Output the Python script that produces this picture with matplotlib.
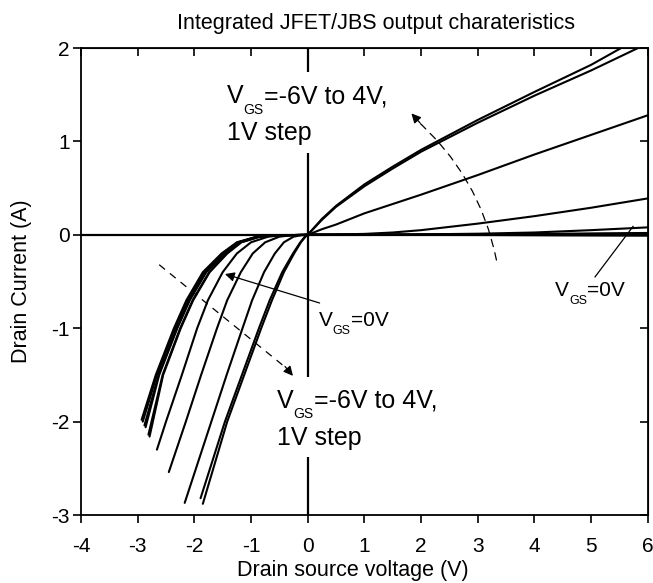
import matplotlib
matplotlib.use('Agg')
import matplotlib.pyplot as plt
from matplotlib.patches import Rectangle

plt.rcParams['font.family'] = ['Liberation Sans', 'DejaVu Sans']
plt.rcParams['axes.unicode_minus'] = False

# ---------------- data ----------------
vgs_values = [-6, -5, -4, -3, -2, -1, 0, 1, 2, 3, 4]

# positive (JFET) branch: common Vds grid, current per Vgs
pos_vds = [0, 0.25, 0.5, 1, 1.5, 2, 3, 4, 5, 6]
pos_id = {
    4:  [0, 0.17, 0.31, 0.54, 0.73, 0.91, 1.23, 1.53, 1.82, 2.16],
    3:  [0, 0.16, 0.30, 0.52, 0.71, 0.89, 1.20, 1.49, 1.76, 2.05],
    2:  [0, 0.06, 0.11, 0.23, 0.33, 0.43, 0.64, 0.86, 1.07, 1.28],
    1:  [0, 0.002, 0.004, 0.01, 0.025, 0.05, 0.12, 0.20, 0.29, 0.39],
    0:  [0, 0.0, 0.0, 0.0, 0.003, 0.005, 0.012, 0.025, 0.05, 0.08],
    -1: [0, 0.0, 0.0, 0.0, 0.0, 0.002, 0.005, 0.01, 0.015, 0.02],
    -2: [0, 0.0, 0.0, 0.0, 0.0, 0.001, 0.003, 0.006, 0.009, 0.012],
    -3: [0, 0.0, 0.0, 0.0, 0.0, 0.0, 0.001, 0.003, 0.004, 0.006],
    -4: [0, 0.0, 0.0, 0.0, 0.0, 0.0, 0.0, 0.0, 0.0, 0.0],
    -5: [0, 0.0, 0.0, 0.0, 0.0, 0.0, -0.001, -0.002, -0.003, -0.004],
    -6: [0, 0.0, 0.0, 0.0, 0.0, -0.001, -0.002, -0.004, -0.006, -0.008],
}

# negative (JBS diode) branch, from the origin down to the last point
neg_vds = {
    -6: [0, -0.55, -0.90, -1.25, -1.52, -1.85, -2.14, -2.36, -2.68, -2.93],
    -5: [0, -0.54, -0.89, -1.23, -1.50, -1.83, -2.12, -2.34, -2.66, -2.91],
    -4: [0, -0.53, -0.88, -1.22, -1.48, -1.80, -2.09, -2.31, -2.63, -2.88],
    -3: [0, -0.52, -0.87, -1.21, -1.47, -1.79, -2.08, -2.30, -2.62, -2.86],
    -2: [0, -0.50, -0.85, -1.18, -1.43, -1.74, -2.03, -2.25, -2.56, -2.81],
    -1: [0, -0.49, -0.84, -1.17, -1.42, -1.73, -2.02, -2.24, -2.55, -2.79],
    0:  [0, -0.45, -0.70, -1.00, -1.25, -1.50, -1.76, -1.95, -2.22, -2.50, -2.66],
    1:  [0, -0.30, -0.50, -0.75, -0.97, -1.18, -1.42, -1.60, -1.88, -2.15, -2.45],
    2:  [0, -0.12, -0.25, -0.42, -0.58, -0.77, -0.98, -1.15, -1.43, -1.70, -2.17],
    3:  [0, -0.02, -0.05, -0.13, -0.26, -0.45, -0.67, -0.86, -1.16, -1.46, -1.89],
    4:  [0, -0.015, -0.04, -0.12, -0.24, -0.42, -0.63, -0.82, -1.12, -1.42, -1.85],
}
neg_id = {
    -6: [0, -0.005, -0.02, -0.08, -0.2, -0.4, -0.7, -1.0, -1.5, -1.98],
    -5: [0, -0.005, -0.02, -0.08, -0.2, -0.4, -0.7, -1.0, -1.5, -2.00],
    -4: [0, -0.005, -0.02, -0.08, -0.2, -0.4, -0.7, -1.0, -1.5, -2.04],
    -3: [0, -0.005, -0.02, -0.08, -0.2, -0.4, -0.7, -1.0, -1.5, -2.06],
    -2: [0, -0.005, -0.02, -0.08, -0.2, -0.4, -0.7, -1.0, -1.5, -2.14],
    -1: [0, -0.005, -0.02, -0.08, -0.2, -0.4, -0.7, -1.0, -1.5, -2.16],
    0:  [0, -0.005, -0.02, -0.08, -0.2, -0.4, -0.7, -1.0, -1.5, -2.0, -2.30],
    1:  [0, -0.005, -0.02, -0.08, -0.2, -0.4, -0.7, -1.0, -1.5, -2.0, -2.54],
    2:  [0, -0.005, -0.02, -0.08, -0.2, -0.4, -0.7, -1.0, -1.5, -2.0, -2.87],
    3:  [0, -0.005, -0.02, -0.08, -0.2, -0.4, -0.7, -1.0, -1.5, -2.0, -2.82],
    4:  [0, -0.005, -0.02, -0.08, -0.2, -0.4, -0.7, -1.0, -1.5, -2.0, -2.88],
}

x_ticks = [-4, -3, -2, -1, 0, 1, 2, 3, 4, 5, 6]
y_ticks = [-3, -2, -1, 0, 1, 2]
title = "Integrated JFET/JBS output charateristics"
xlabel = "Drain source voltage (V)"
ylabel = "Drain Current (A)"

# ---------------- figure ----------------
fig = plt.figure(figsize=(6.53, 5.83), dpi=100)
ax = fig.add_axes([0.124, 0.1166, 0.868, 0.801])
ax.set_xlim(-4, 6)
ax.set_ylim(-3, 2)

for v in vgs_values:
    xs = neg_vds[v][::-1] + pos_vds[1:]
    ys = neg_id[v][::-1] + pos_id[v][1:]
    ax.plot(xs, ys, color='black', lw=1.5, solid_joinstyle='round',
            solid_capstyle='round', zorder=3)

ax.axhline(0, color='black', lw=1.6, zorder=2)
ax.axvline(0, color='black', lw=1.6, zorder=2)

for s in ax.spines.values():
    s.set_linewidth(1.3)

ax.set_xticks(x_ticks)
ax.set_yticks(y_ticks)
ax.tick_params(direction='out', length=6, width=1.2, labelsize=15)
ax.tick_params(axis='x', pad=9.5)
ax.tick_params(axis='y', pad=2)

secx = ax.secondary_xaxis('top')
secx.set_xticks(x_ticks)
secx.tick_params(direction='in', length=6, width=1.2, labeltop=False)
secy = ax.secondary_yaxis('right')
secy.set_yticks(y_ticks)
secy.tick_params(direction='in', length=6, width=1.2, labelright=False)

ax.set_title(title, fontsize=15.5, x=0.52, pad=14)
ax.set_xlabel(xlabel, fontsize=15.5)
ax.xaxis.set_label_coords(0.48, -0.096)
ax.set_ylabel(ylabel, fontsize=15.5, labelpad=14)


def vgs_label(x, y, rest, size, subsize, sub_off):
    t1 = ax.text(x, y, 'V', fontsize=size, ha='left', va='baseline', zorder=7)
    t2 = ax.annotate('GS', xy=(1, 0), xycoords=t1, xytext=(0.3, sub_off),
                     textcoords='offset points', fontsize=subsize,
                     ha='left', va='baseline', zorder=7)
    ax.annotate(rest, xy=(1, 0), xycoords=(t2, t1), fontsize=size,
                ha='left', va='bottom', zorder=7)


# white boxes behind the two long labels (they hide the zero line)
ax.add_patch(Rectangle((-1.62, 0.88), 3.2, 0.86, facecolor='white',
                       edgecolor='none', zorder=4.5))
ax.add_patch(Rectangle((-0.70, -2.38), 3.4, 0.86, facecolor='white',
                       edgecolor='none', zorder=4.5))

vgs_label(-1.43, 1.41, '=-6V to 4V,', 18, 10, -4.0)
ax.text(-1.43, 1.02, '1V step', fontsize=18, ha='left', va='baseline', zorder=7)
vgs_label(-0.55, -1.853, '=-6V to 4V,', 18, 10, -4.0)
ax.text(-0.55, -2.246, '1V step', fontsize=18, ha='left', va='baseline', zorder=7)

vgs_label(0.19, -0.98, '=0V', 15, 9, -2.8)
vgs_label(4.36, -0.66, '=0V', 15, 9, -2.8)

# thin solid pointers
ax.annotate('', xy=(-1.46, -0.42), xytext=(0.21, -0.73),
            arrowprops=dict(arrowstyle='-|>', color='black', lw=0.9,
                            mutation_scale=14, shrinkA=0, shrinkB=0), zorder=5)
ax.plot([5.07, 5.74], [-0.45, 0.09], color='black', lw=0.9, zorder=5)

# lower dashed arrow
ax.plot([-2.62, -0.35], [-0.32, -1.44], color='black', lw=0.9,
        ls=(0, (6, 5)), zorder=5)
ax.annotate('', xy=(-0.26, -1.51), xytext=(-0.40, -1.41),
            arrowprops=dict(arrowstyle='-|>', color='black', lw=0.9,
                            mutation_scale=14, shrinkA=0, shrinkB=0), zorder=5)
# upper dashed arrow (curved)
ax.annotate('', xy=(1.88, 1.25), xytext=(3.33, -0.27),
            arrowprops=dict(arrowstyle='-', color='black', lw=0.9, ls=(0, (6, 5)),
                            connectionstyle='arc3,rad=0.17', shrinkA=0, shrinkB=0),
            zorder=5)
ax.annotate('', xy=(1.83, 1.30), xytext=(1.98, 1.20),
            arrowprops=dict(arrowstyle='-|>', color='black', lw=0.9,
                            mutation_scale=14, shrinkA=0, shrinkB=0), zorder=5)

fig.savefig('out.png', dpi=100)
